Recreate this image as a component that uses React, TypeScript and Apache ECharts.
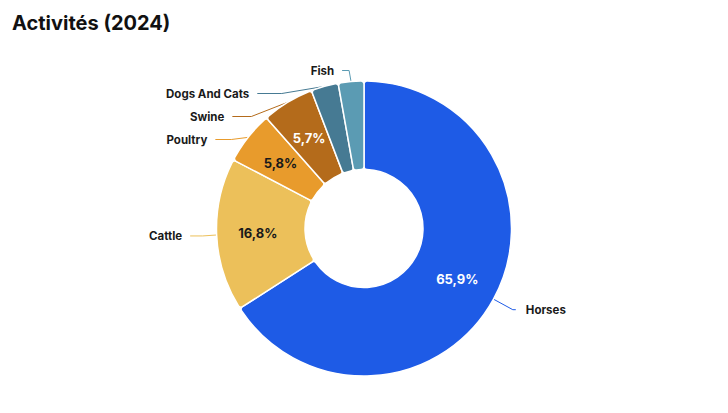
import React, { useEffect, useRef } from "react";
import * as echarts from "echarts";

const categories = ["Horses", "Cattle", "Poultry", "Swine", "Dogs And Cats", "Fish"];
const shares = [65.9, 16.8, 5.8, 5.7, 3.0, 2.8];
const sliceColors = ["#1e5be6", "#ecc05a", "#e89b2c", "#b46b1b", "#467a93", "#5b9bb3"];
const valueLabelColors = ["#ffffff", "#1a1a1a", "#1a1a1a", "#ffffff", "#ffffff", "#ffffff"];
const minShareForValueLabel = 5;

const fmt = (v: number) => v.toFixed(1).replace(".", ",") + "%";

export default function App() {
  const ref = useRef<HTMLDivElement>(null);

  useEffect(() => {
    if (!ref.current) return;
    const chart = echarts.init(ref.current, null, { renderer: "svg" });
    const font = "Inter, 'Noto Sans', sans-serif";
    // plot box below the title; the donut centre is given relative to it
    const box = { left: 0, top: 59, width: 728, height: 354 };
    const center = [364, 169.5];
    const radius = [59, 147.5];

    // leader-line tail length per label, so the stacked labels on the left fan out
    const leaderTail: Record<string, { length2: number; gap: number }> = {
      Horses: { length2: 3, gap: 10 },
      Cattle: { length2: 12.5, gap: 8 },
      Poultry: { length2: 16, gap: 8 },
      Swine: { length2: 19, gap: 8 },
      "Dogs And Cats": { length2: 24.5, gap: 8 },
      Fish: { length2: 7, gap: 8 },
    };

    chart.setOption({
      animation: false,
      textStyle: { fontFamily: font },
      title: {
        text: "Activités (2024)",
        left: 12,
        top: 13,
        padding: 0,
        textStyle: { fontFamily: font, fontSize: 20, fontWeight: 700, color: "#111111" },
      },
      series: [
        {
          type: "pie",
          ...box,
          center,
          radius,
          startAngle: 90,
          clockwise: true,
          silent: true,
          itemStyle: { borderColor: "#ffffff", borderWidth: 1.5, borderRadius: 3 },
          label: {
            show: true,
            position: "outside",
            formatter: "{b}",
            fontFamily: font,
            fontSize: 11.5,
            fontWeight: 700,
            lineHeight: 21,
            color: "#1a1a1a",
            distanceToLabelLine: 8,
          },
          labelLine: { show: true, length: 22, length2: 12.5, lineStyle: { width: 1 } },
          data: categories.map((name, i) => ({
            name,
            value: shares[i],
            itemStyle: { color: sliceColors[i] },
            label: { distanceToLabelLine: leaderTail[name].gap },
            labelLine: { length2: leaderTail[name].length2 },
          })),
        },
        {
          type: "pie",
          ...box,
          center,
          radius,
          startAngle: 90,
          clockwise: true,
          silent: true,
          itemStyle: { color: "transparent" },
          label: {
            show: true,
            position: "inside",
            fontFamily: font,
            fontSize: 13,
            fontWeight: 700,
            formatter: (p: any) => (p.value >= minShareForValueLabel ? fmt(p.value) : ""),
          },
          labelLine: { show: false },
          data: categories.map((name, i) => ({
            name,
            value: shares[i],
            label: { color: valueLabelColors[i] },
          })),
        },
      ],
    });
    return () => chart.dispose();
  }, []);

  return (
    <div
      ref={ref}
      style={{ position: "fixed", left: 0, top: 0, width: 728, height: 413, background: "#ffffff" }}
    />
  );
}
